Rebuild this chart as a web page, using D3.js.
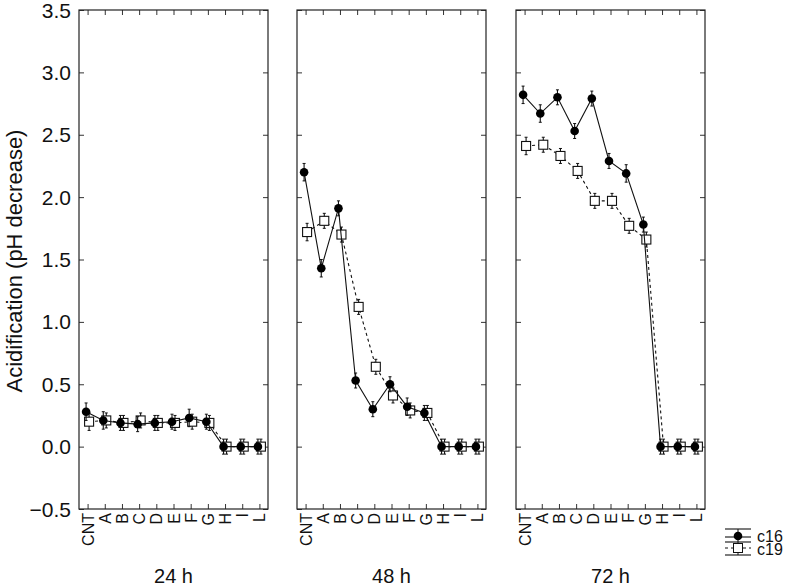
<!DOCTYPE html>
<head>
  <meta charset="utf-8">
  <title>Acidification</title>
  <script type="text/javascript" src="https://d3js.org/d3.v7.min.js"></script>
  <style>
    body { margin: 0; background: #fff; }
    text { font-family: "Liberation Sans", Arial, sans-serif; fill: #111; }
  </style>
</head>
<body>
<svg id="chart" width="787" height="586"></svg>
<script type="text/javascript">
  // categories and panels
  var categories = ["CNT", "A", "B", "C", "D", "E", "F", "G", "H", "I", "L"];
  var panels = ["24 h", "48 h", "72 h"];
  var yTicks = [-0.5, 0.0, 0.5, 1.0, 1.5, 2.0, 2.5, 3.0, 3.5];

  // c16 means per panel
  var c16_24 = [0.28, 0.21, 0.19, 0.18, 0.19, 0.20, 0.23, 0.20, 0.00, 0.00, 0.00];
  var c16_48 = [2.20, 1.43, 1.91, 0.53, 0.30, 0.50, 0.32, 0.27, 0.00, 0.00, 0.00];
  var c16_72 = [2.82, 2.67, 2.80, 2.53, 2.79, 2.29, 2.19, 1.78, 0.00, 0.00, 0.00];
  // c19 means per panel
  var c19_24 = [0.20, 0.21, 0.19, 0.21, 0.19, 0.19, 0.20, 0.19, 0.00, 0.00, 0.00];
  var c19_48 = [1.72, 1.81, 1.70, 1.12, 0.64, 0.41, 0.29, 0.27, 0.00, 0.00, 0.00];
  var c19_72 = [2.41, 2.42, 2.33, 2.21, 1.97, 1.97, 1.77, 1.66, 0.00, 0.00, 0.00];
  // standard errors
  var c16_err = [0.07, 0.07, 0.06, 0.06, 0.06, 0.06, 0.07, 0.06, 0.06, 0.06, 0.06];
  var c19_err = [0.07, 0.06, 0.06, 0.06, 0.06, 0.06, 0.06, 0.06, 0.06, 0.06, 0.06];

  var c16 = [c16_24, c16_48, c16_72];
  var c19 = [c19_24, c19_48, c19_72];

  var svg = d3.select("#chart");
  var panelW = 189, plotTop = 10, plotBottom = 509;
  var lefts = [79, 297, 516];

  var y = d3.scaleLinear().domain([-0.5, 3.5]).range([plotBottom, plotTop]);

  panels.forEach(function(name, p) {
    var x = d3.scalePoint().domain(categories).range([lefts[p], lefts[p] + panelW]).padding(0.5);
    var g = svg.append("g");

    // inward ticks on all sides
    g.append("g").attr("transform", "translate(0," + plotBottom + ")")
      .call(d3.axisBottom(x).tickSizeInner(-5).tickSizeOuter(0).tickFormat(""));
    g.append("g").attr("transform", "translate(0," + plotTop + ")")
      .call(d3.axisTop(x).tickSizeInner(-5).tickSizeOuter(0).tickFormat(""));
    g.append("g").attr("transform", "translate(" + lefts[p] + ",0)")
      .call(d3.axisLeft(y).tickValues(yTicks).tickSizeInner(-5).tickSizeOuter(0).tickFormat(""));
    g.append("g").attr("transform", "translate(" + (lefts[p] + panelW) + ",0)")
      .call(d3.axisRight(y).tickValues(yTicks).tickSizeInner(-5).tickSizeOuter(0).tickFormat(""));
    g.selectAll(".domain").remove();
    g.selectAll(".tick line").attr("stroke", "#333");

    g.append("rect")
      .attr("x", lefts[p]).attr("y", plotTop)
      .attr("width", panelW).attr("height", plotBottom - plotTop)
      .attr("fill", "none").attr("stroke", "#222").attr("stroke-width", 1.2);

    // category labels, rotated
    g.selectAll("text.cat")
      .data(categories).enter()
      .append("text")
      .attr("class", "cat")
      .attr("transform", function(d) { return "translate(" + (x(d) + 6) + "," + (plotBottom + 4) + ") rotate(-90)"; })
      .attr("text-anchor", "end")
      .style("font-size", "16px")
      .text(function(d) { return d; });

    g.append("text")
      .attr("x", lefts[p] + panelW / 2).attr("y", 583)
      .attr("text-anchor", "middle")
      .style("font-size", "20px")
      .text(name);

    var series = [
      { vals: c19[p], err: c19_err, dx: 1.5, dash: "3,3", type: "square" },
      { vals: c16[p], err: c16_err, dx: -1.5, dash: null, type: "circle" }
    ];

    series.forEach(function(s) {
      var line = d3.line()
        .x(function(d, i) { return x(categories[i]) + s.dx; })
        .y(function(d) { return y(d); });
      g.append("path")
        .datum(s.vals)
        .attr("d", line)
        .attr("fill", "none")
        .attr("stroke", "#111")
        .attr("stroke-width", 1.1)
        .attr("stroke-dasharray", s.dash);

      // error bars
      var eb = g.selectAll(null).data(s.vals).enter().append("g");
      eb.append("line")
        .attr("x1", function(d, i) { return x(categories[i]) + s.dx; })
        .attr("x2", function(d, i) { return x(categories[i]) + s.dx; })
        .attr("y1", function(d, i) { return y(d + s.err[i]); })
        .attr("y2", function(d, i) { return y(d - s.err[i]); })
        .attr("stroke", "#111").attr("stroke-width", 1.1);
      [1, -1].forEach(function(sg) {
        eb.append("line")
          .attr("x1", function(d, i) { return x(categories[i]) + s.dx - 1.5; })
          .attr("x2", function(d, i) { return x(categories[i]) + s.dx + 1.5; })
          .attr("y1", function(d, i) { return y(d + sg * s.err[i]); })
          .attr("y2", function(d, i) { return y(d + sg * s.err[i]); })
          .attr("stroke", "#111").attr("stroke-width", 1);
      });

      if (s.type === "circle") {
        g.selectAll(null).data(s.vals).enter().append("circle")
          .attr("cx", function(d, i) { return x(categories[i]) + s.dx; })
          .attr("cy", function(d) { return y(d); })
          .attr("r", 4.3)
          .attr("fill", "#000");
      } else {
        g.selectAll(null).data(s.vals).enter().append("rect")
          .attr("x", function(d, i) { return x(categories[i]) + s.dx - 4.5; })
          .attr("y", function(d) { return y(d) - 4.5; })
          .attr("width", 9).attr("height", 9)
          .attr("fill", "#fff").attr("stroke", "#111").attr("stroke-width", 1.1);
      }
    });
  });

  // y axis labels on first panel
  svg.selectAll("text.ylab")
    .data(yTicks).enter()
    .append("text")
    .attr("class", "ylab")
    .attr("x", 71).attr("y", function(d) { return y(d) + 7.5; })
    .attr("text-anchor", "end")
    .style("font-size", "21px")
    .text(function(d) { return d3.format(".1f")(d); });

  svg.append("text")
    .attr("transform", "translate(22,261) rotate(-90)")
    .attr("text-anchor", "middle")
    .style("font-size", "22px")
    .text("Acidification (pH decrease)");

  // legend
  var lg = svg.append("g").attr("transform", "translate(725,0)");
  [529, 537, 542, 555].forEach(function(yy, i) {
    lg.append("line").attr("x1", 0).attr("x2", 26).attr("y1", yy).attr("y2", yy)
      .attr("stroke", "#111").attr("stroke-width", 1.1);
  });
  lg.append("line").attr("x1", 13).attr("x2", 13).attr("y1", 529).attr("y2", 542)
    .attr("stroke", "#111");
  lg.append("circle").attr("cx", 13).attr("cy", 536).attr("r", 4.3).attr("fill", "#000");
  lg.append("line").attr("x1", 0).attr("x2", 26).attr("y1", 548).attr("y2", 548)
    .attr("stroke", "#111").attr("stroke-dasharray", "3,3");
  lg.append("line").attr("x1", 13).attr("x2", 13).attr("y1", 542).attr("y2", 555)
    .attr("stroke", "#111");
  lg.append("rect").attr("x", 8.5).attr("y", 543.5).attr("width", 9).attr("height", 9)
    .attr("fill", "#fff").attr("stroke", "#111");
  lg.append("text").attr("x", 32).attr("y", 542).style("font-size", "16px").text("c16");
  lg.append("text").attr("x", 32).attr("y", 555).style("font-size", "16px").text("c19");
</script>
</body>
